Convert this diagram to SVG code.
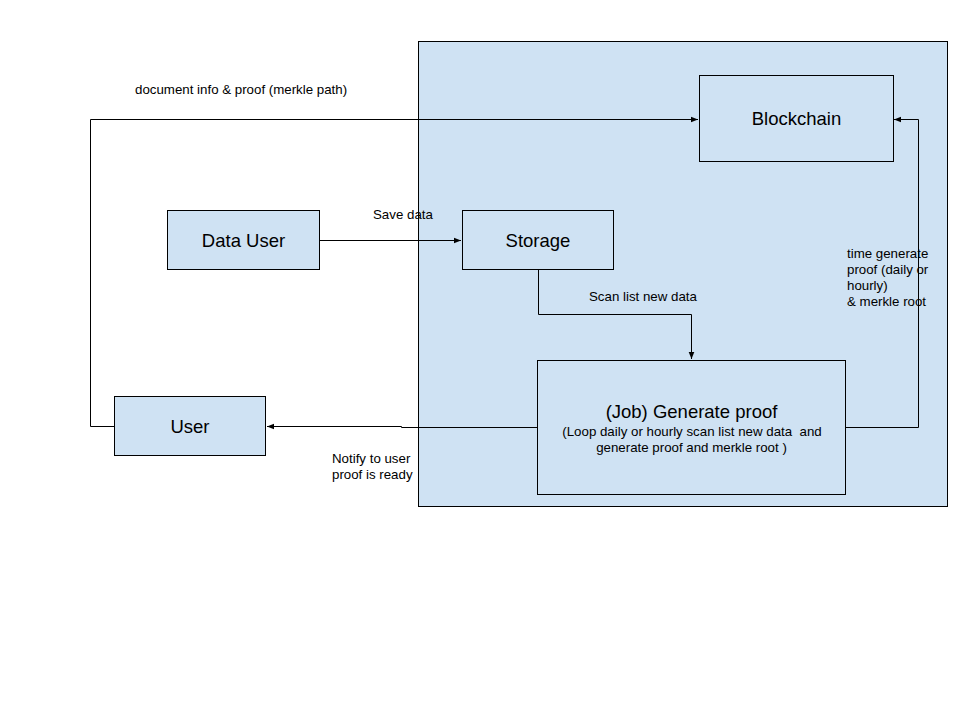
<svg xmlns="http://www.w3.org/2000/svg" width="960" height="720" viewBox="0 0 960 720">
<defs>
<style>
.node{fill:#cfe2f3;stroke:#000;stroke-width:1}
.t{font-family:"Liberation Sans",Arial,sans-serif;fill:#000;white-space:pre}
.big{font-size:18.5px;text-anchor:middle}
.lbl{font-size:13.3px}
.sub{font-size:13.3px;text-anchor:middle}
.c{fill:none;stroke:#000;stroke-width:1}
</style>
<marker id="ah" viewBox="0 0 10 10" refX="10" refY="5" markerWidth="7" markerHeight="7" orient="auto" markerUnits="userSpaceOnUse">
<path d="M0,1 L10,5 L0,9 z" fill="#000"/>
</marker>
</defs>
<rect width="960" height="720" fill="#fff"/>
<g id="container"><rect x="418.5" y="41.5" width="529" height="465" class="node"/></g>
<g id="connectors">
<path class="c" d="M114,426.5 H90.5 V119.5 H698" marker-end="url(#ah)"/>
<path class="c" d="M319,240.5 H461" marker-end="url(#ah)"/>
<path class="c" d="M538.5,269 V314.5 H691.5 V359" marker-end="url(#ah)"/>
<path class="c" d="M845,427.5 H918.5 V119.5 H894" marker-end="url(#ah)"/>
<path class="c" d="M537,427.5 H401.5 V426.5 H267" marker-end="url(#ah)"/>
</g>
<g id="blockchain"><rect x="699.5" y="75.5" width="194" height="86" class="node"/><text x="796.5" y="125" class="t big">Blockchain</text></g>
<g id="data-user"><rect x="167.5" y="210.5" width="152" height="59" class="node"/><text x="243.5" y="247" class="t big">Data User</text></g>
<g id="storage"><rect x="462.5" y="210.5" width="151" height="59" class="node"/><text x="538" y="247" class="t big">Storage</text></g>
<g id="user"><rect x="114.5" y="396.5" width="151" height="59" class="node"/><text x="190" y="433" class="t big">User</text></g>
<g id="job"><rect x="537.5" y="360.5" width="308" height="134" class="node"/><text x="691.5" y="418" class="t big">(Job) Generate proof</text><text x="692" y="436" class="t sub">(Loop daily or hourly scan list new data  and</text><text x="691.5" y="452" class="t sub">generate proof and merkle root )</text></g>
<g id="labels">
<text x="135" y="94" class="t lbl">document info &amp; proof (merkle path)</text>
<text x="373" y="219" class="t lbl">Save data</text>
<text x="589" y="301" class="t lbl">Scan list new data</text>
<text x="847" y="258" class="t lbl">time generate</text>
<text x="847" y="274" class="t lbl">proof (daily or</text>
<text x="847" y="290" class="t lbl">hourly)</text>
<text x="847" y="306" class="t lbl">&amp; merkle root</text>
<text x="332" y="463" class="t lbl">Notify to user</text>
<text x="332" y="479" class="t lbl">proof is ready</text>
</g>
</svg>
